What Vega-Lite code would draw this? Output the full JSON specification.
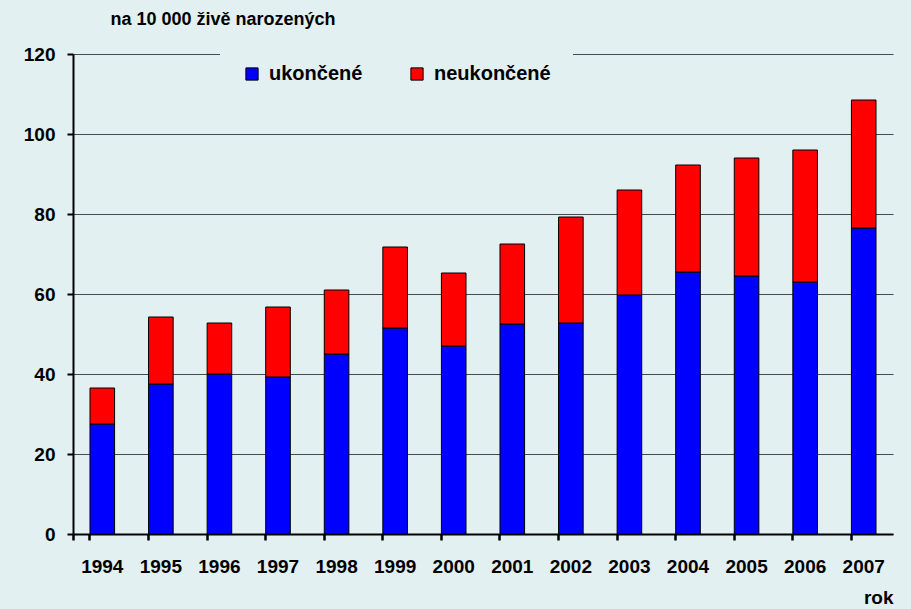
{
  "$schema": "https://vega.github.io/schema/vega-lite/v6.json",
  "width": 820,
  "height": 480,
  "autosize": "none",
  "padding": {"left": 73, "top": 54, "right": 18, "bottom": 75},
  "background": "#e2f0f2",
  "config": {
    "view": {"stroke": null},
    "font": "Liberation Sans"
  },
  "data": {
    "values": [
      {"rok": "1994", "typ": "ukončené", "hodnota": 27.5},
      {"rok": "1994", "typ": "neukončené", "hodnota": 9.0},
      {"rok": "1995", "typ": "ukončené", "hodnota": 37.5},
      {"rok": "1995", "typ": "neukončené", "hodnota": 16.75},
      {"rok": "1996", "typ": "ukončené", "hodnota": 40.0},
      {"rok": "1996", "typ": "neukončené", "hodnota": 12.75},
      {"rok": "1997", "typ": "ukončené", "hodnota": 39.25},
      {"rok": "1997", "typ": "neukončené", "hodnota": 17.5},
      {"rok": "1998", "typ": "ukončené", "hodnota": 45.0},
      {"rok": "1998", "typ": "neukončené", "hodnota": 16.0},
      {"rok": "1999", "typ": "ukončené", "hodnota": 51.5},
      {"rok": "1999", "typ": "neukončené", "hodnota": 20.25},
      {"rok": "2000", "typ": "ukončené", "hodnota": 47.0},
      {"rok": "2000", "typ": "neukončené", "hodnota": 18.25},
      {"rok": "2001", "typ": "ukončené", "hodnota": 52.5},
      {"rok": "2001", "typ": "neukončené", "hodnota": 20.0},
      {"rok": "2002", "typ": "ukončené", "hodnota": 52.75},
      {"rok": "2002", "typ": "neukončené", "hodnota": 26.5},
      {"rok": "2003", "typ": "ukončené", "hodnota": 59.75},
      {"rok": "2003", "typ": "neukončené", "hodnota": 26.25},
      {"rok": "2004", "typ": "ukončené", "hodnota": 65.5},
      {"rok": "2004", "typ": "neukončené", "hodnota": 26.75},
      {"rok": "2005", "typ": "ukončené", "hodnota": 64.5},
      {"rok": "2005", "typ": "neukončené", "hodnota": 29.5},
      {"rok": "2006", "typ": "ukončené", "hodnota": 63.0},
      {"rok": "2006", "typ": "neukončené", "hodnota": 33.0},
      {"rok": "2007", "typ": "ukončené", "hodnota": 76.5},
      {"rok": "2007", "typ": "neukončené", "hodnota": 32.0}
    ]
  },
  "mark": {"type": "bar", "stroke": "#000000", "strokeWidth": 1},
  "encoding": {
    "x": {
      "field": "rok",
      "type": "nominal",
      "scale": {"paddingInner": 0.58, "paddingOuter": 0.29},
      "axis": {
        "title": "rok",
        "titleFont": "Liberation Sans",
        "titleFontSize": 19,
        "titleFontWeight": "bold",
        "titleColor": "#000000",
        "titleAnchor": "end",
        "titleAlign": "right",
        "titleBaseline": "alphabetic",
        "titleX": 820,
        "titleY": 69,
        "labelAngle": 0,
        "labelFont": "Liberation Sans",
        "labelFontSize": 19,
        "labelFontWeight": "bold",
        "labelColor": "#000000",
        "labelPadding": 17,
        "domainColor": "#000000",
        "domainWidth": 2,
        "tickColor": "#000000",
        "tickWidth": 2.5,
        "tickSize": 6,
        "bandPosition": 0,
        "tickExtra": true,
        "ticks": true,
        "grid": false
      }
    },
    "y": {
      "field": "hodnota",
      "type": "quantitative",
      "aggregate": "sum",
      "stack": "zero",
      "scale": {"domain": [0, 120], "nice": false},
      "axis": {
        "title": "na 10 000 živě narozených",
        "titleFont": "Liberation Sans",
        "titleFontSize": 18,
        "titleFontWeight": 700,
        "titleColor": "#000000",
        "titleAngle": 0,
        "titleAlign": "left",
        "titleBaseline": "alphabetic",
        "titleX": 37,
        "titleY": -30,
        "values": [0, 20, 40, 60, 80, 100, 120],
        "labelFont": "Liberation Sans",
        "labelFontSize": 19,
        "labelFontWeight": "bold",
        "labelColor": "#000000",
        "labelPadding": 12,
        "domainColor": "#000000",
        "domainWidth": 2,
        "tickColor": "#000000",
        "tickWidth": 2,
        "tickSize": 6,
        "grid": true,
        "gridColor": "#4a4a4a",
        "gridWidth": 1
      }
    },
    "color": {
      "field": "typ",
      "type": "nominal",
      "scale": {"domain": ["ukončené", "neukončené"], "range": ["#0000ff", "#ff0000"]},
      "legend": {
        "title": null,
        "orient": "none",
        "direction": "horizontal",
        "legendX": 147,
        "legendY": -12,
        "padding": 22,
        "fillColor": "#e2f0f2",
        "symbolType": "square",
        "symbolSize": 150,
        "symbolStrokeColor": "#000000",
        "symbolStrokeWidth": 1,
        "symbolOpacity": 1,
        "labelFont": "Liberation Sans",
        "labelFontSize": 20,
        "labelFontWeight": "bold",
        "labelColor": "#000000",
        "labelOffset": 7,
        "columnPadding": 44
      }
    },
    "order": {"field": "typ", "sort": "descending"}
  }
}
